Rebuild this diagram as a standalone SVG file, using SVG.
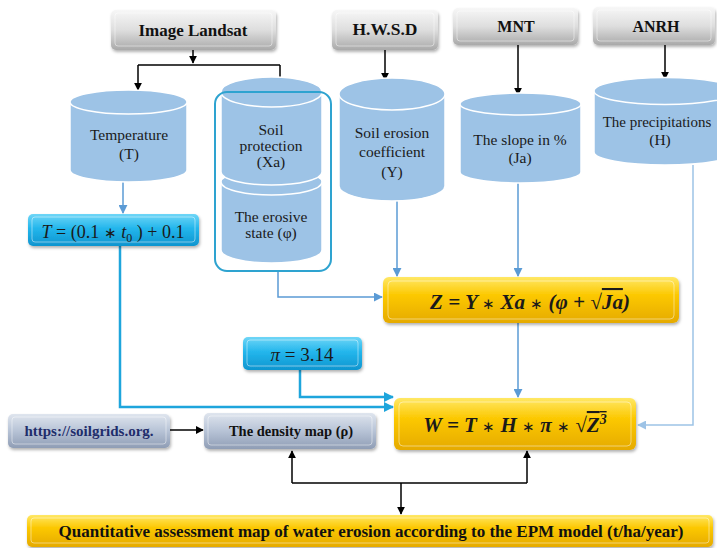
<svg xmlns="http://www.w3.org/2000/svg" width="717" height="548" viewBox="0 0 717 548">
<defs>
<linearGradient id="gGray" x1="0" y1="0" x2="0" y2="1">
<stop offset="0" stop-color="#f7f7f7"/><stop offset="0.5" stop-color="#dedede"/><stop offset="1" stop-color="#a9a9a9"/>
</linearGradient>
<linearGradient id="gCyan" x1="0" y1="0" x2="0" y2="1">
<stop offset="0" stop-color="#6fd6f7"/><stop offset="0.45" stop-color="#23b6ec"/><stop offset="1" stop-color="#0f95cf"/>
</linearGradient>
<linearGradient id="gGold" x1="0" y1="0" x2="0" y2="1">
<stop offset="0" stop-color="#ffe866"/><stop offset="0.4" stop-color="#fcc800"/><stop offset="1" stop-color="#e5aa00"/>
</linearGradient>
<linearGradient id="gSlate" x1="0" y1="0" x2="0" y2="1">
<stop offset="0" stop-color="#dfe5ee"/><stop offset="0.5" stop-color="#b7c3d6"/><stop offset="1" stop-color="#8f9db5"/>
</linearGradient>
<filter id="sh" x="-10%" y="-20%" width="120%" height="150%">
<feDropShadow dx="1" dy="2" stdDeviation="1.5" flood-color="#000" flood-opacity="0.3"/>
</filter>
<marker id="aK" viewBox="0 0 10 10" refX="9" refY="5" markerWidth="8" markerHeight="8" markerUnits="userSpaceOnUse" orient="auto">
<path d="M0,0 L10,5 L0,10 Z" fill="#000"/>
</marker>
<marker id="aB" viewBox="0 0 10 10" refX="9" refY="5" markerWidth="9" markerHeight="9" markerUnits="userSpaceOnUse" orient="auto">
<path d="M0,0 L10,5 L0,10 Z" fill="#5b9bd5"/>
</marker>
<marker id="aL" viewBox="0 0 10 10" refX="9" refY="5" markerWidth="9" markerHeight="9" markerUnits="userSpaceOnUse" orient="auto">
<path d="M0,0 L10,5 L0,10 Z" fill="#9dc3e6"/>
</marker>
<marker id="aC" viewBox="0 0 10 10" refX="9" refY="5" markerWidth="10" markerHeight="10" markerUnits="userSpaceOnUse" orient="auto">
<path d="M0,0 L10,5 L0,10 Z" fill="#1ea5dc"/>
</marker>
<style>
.src{fill:url(#gGray);filter:url(#sh)}
.cyan{fill:url(#gCyan);filter:url(#sh)}
.gold{fill:url(#gGold);filter:url(#sh)}
.slate{fill:url(#gSlate);filter:url(#sh)}
.bev{fill:none;stroke:#fff;stroke-opacity:0.45;stroke-width:1}
.cyl{fill:#9dc3e6;stroke:#fff;stroke-width:1.5}
.hd{font-family:"Liberation Serif",serif;font-weight:bold;font-size:16px;fill:#111;text-anchor:middle}
.ct{font-family:"Liberation Serif",serif;font-size:15.5px;fill:#1a1a1a;text-anchor:middle}
.mi{font-family:"Liberation Serif",serif;font-size:18px;fill:#1a1a1a;text-anchor:middle}
.mb{font-family:"Liberation Serif",serif;font-style:italic;font-weight:bold;font-size:21px;fill:#1a1a1a;text-anchor:middle}
.it{font-style:italic}
.op{font-family:"Liberation Sans",sans-serif;font-style:normal;font-weight:normal;font-size:15px}
.k{fill:none;stroke:#000;stroke-width:1.5}
.b{fill:none;stroke:#5b9bd5;stroke-width:1.5}
.l{fill:none;stroke:#9dc3e6;stroke-width:1.5}
.c{fill:none;stroke:#1ea5dc;stroke-width:2.5}
</style>
</defs>
<rect width="717" height="548" fill="#fff"/>

<g id="connectors">
<path class="k" d="M193,50 V63" marker-end="url(#aK)"/>
<path class="k" d="M138,65 H280"/>
<path class="k" d="M138,65 V90" marker-end="url(#aK)"/>
<path class="k" d="M280,65 V90" marker-end="url(#aK)"/>
<path class="k" d="M385,50 V80" marker-end="url(#aK)"/>
<path class="k" d="M518,45 V95" marker-end="url(#aK)"/>
<path class="k" d="M665,45 V79" marker-end="url(#aK)"/>
<path class="b" d="M123,182 V213" marker-end="url(#aB)"/>
<path class="b" d="M278,271 V297 H382" marker-end="url(#aB)"/>
<path class="b" d="M397,201 V276" marker-end="url(#aB)"/>
<path class="b" d="M518,183 V276" marker-end="url(#aB)"/>
<path class="b" d="M518,323 V397" marker-end="url(#aB)"/>
<path class="l" d="M693,165 V425 H638" marker-end="url(#aL)"/>
<path class="c" d="M120,246 V407 H393" marker-end="url(#aC)"/>
<path class="c" d="M300,370 V397 H393" marker-end="url(#aC)"/>
<path class="k" d="M170,430 H203" marker-end="url(#aK)"/>
<path class="k" d="M292,483 V451" marker-end="url(#aK)"/>
<path class="k" d="M292,483 H527"/>
<path class="k" d="M527,483 V451" marker-end="url(#aK)"/>
<path class="k" d="M401,483 V514" marker-end="url(#aK)"/>
</g>

<g id="landsat">
<rect class="src" x="111" y="10" width="165" height="40" rx="5"/>
<rect class="bev" x="115" y="13" width="157" height="33" rx="3"/>
<text class="hd" x="193" y="36" style="font-size:17px">Image Landsat</text>
</g>
<g id="hwsd">
<rect class="src" x="332" y="10" width="106" height="40" rx="5"/>
<rect class="bev" x="336" y="13" width="98" height="33" rx="3"/>
<text class="hd" x="385" y="35" style="font-size:17.5px">H.W.S.D</text>
</g>
<g id="mnt">
<rect class="src" x="453" y="8" width="125" height="37" rx="5"/>
<rect class="bev" x="457" y="11" width="117" height="30" rx="3"/>
<text class="hd" x="516" y="32">MNT</text>
</g>
<g id="anrh">
<rect class="src" x="593" y="7" width="122" height="38" rx="5"/>
<rect class="bev" x="597" y="10" width="114" height="31" rx="3"/>
<text class="hd" x="656" y="32">ANRH</text>
</g>

<g id="temperature">
<path class="cyl" d="M70,102 V170 A58.5,12 0 0 0 187,170 V102 Z"/>
<ellipse class="cyl" cx="128.5" cy="102" rx="58.5" ry="12"/>
<text class="ct" x="129" y="140">Temperature</text>
<text class="ct" x="129" y="159">(T)</text>
</g>

<g id="soil-group">
<path class="cyl" d="M221,182 V250 A50.5,13 0 0 0 322,250 V182 Z"/>
<ellipse class="cyl" cx="271.5" cy="182" rx="50.5" ry="13"/>
<path class="cyl" d="M221,92 V172 A50.5,13 0 0 0 322,172 V92 Z"/>
<ellipse class="cyl" cx="271.5" cy="92" rx="50.5" ry="15"/>
<text class="ct" x="271" y="135">Soil</text>
<text class="ct" x="271" y="151">protection</text>
<text class="ct" x="271" y="167">(Xa)</text>
<text class="ct" x="271" y="222">The erosive</text>
<text class="ct" x="271" y="238">state (φ)</text>
<rect x="215" y="92" width="116" height="179" rx="12" fill="none" stroke="#2ea3d0" stroke-width="2"/>
</g>

<g id="soil-erosion">
<path class="cyl" d="M339,94 V186 A53,15 0 0 0 445,186 V94 Z"/>
<ellipse class="cyl" cx="392" cy="94" rx="53" ry="16"/>
<text class="ct" x="392" y="138">Soil erosion</text>
<text class="ct" x="392" y="157">coefficient</text>
<text class="ct" x="392" y="177">(Y)</text>
</g>

<g id="slope">
<path class="cyl" d="M460,104 V172 A60.5,11 0 0 0 581,172 V104 Z"/>
<ellipse class="cyl" cx="520.5" cy="104" rx="60.5" ry="11"/>
<text class="ct" x="520" y="145">The slope in %</text>
<text class="ct" x="520" y="163">(Ja)</text>
</g>

<g id="precip">
<path class="cyl" d="M594,91 V152 A71,13 0 0 0 736,152 V91 Z"/>
<ellipse class="cyl" cx="665" cy="91" rx="71" ry="13.5"/>
<text class="ct" x="657" y="127" style="font-size:15px">The precipitations</text>
<text class="ct" x="660" y="145">(H)</text>
</g>

<g id="t-formula">
<rect class="cyan" x="28" y="214" width="171" height="32" rx="5"/>
<rect class="bev" x="32" y="217" width="163" height="25" rx="3"/>
<text class="mi" x="113" y="238"><tspan class="it">T</tspan> = (0.1 <tspan class="op">∗</tspan> <tspan class="it">t</tspan><tspan font-size="12" dy="4">0</tspan><tspan dy="-4"> ) + 0.1</tspan></text>
</g>

<g id="z-formula">
<rect class="gold" x="383" y="277" width="296" height="46" rx="6"/>
<rect class="bev" x="388" y="281" width="286" height="38" rx="4"/>
<text class="mb" x="530" y="309">Z = Y <tspan class="op">∗</tspan> Xa <tspan class="op">∗</tspan> (φ + √<tspan text-decoration="overline">Ja</tspan>)</text>
</g>

<g id="pi">
<rect class="cyan" x="243" y="337" width="119" height="33" rx="5"/>
<rect class="bev" x="247" y="340" width="111" height="26" rx="3"/>
<text class="mi" x="302" y="361" style="font-size:19px"><tspan class="it">π</tspan> = 3.14</text>
</g>

<g id="w-formula">
<rect class="gold" x="394" y="398" width="242" height="52" rx="6"/>
<rect class="bev" x="399" y="402" width="232" height="44" rx="4"/>
<text class="mb" x="515" y="432">W = T <tspan class="op">∗</tspan> H <tspan class="op">∗</tspan> π <tspan class="op">∗</tspan> √<tspan text-decoration="overline">Z<tspan font-size="14" dy="-8">3</tspan></tspan></text>
</g>

<g id="soilgrids">
<rect class="slate" x="8" y="414" width="162" height="34" rx="5"/>
<rect class="bev" x="12" y="417" width="154" height="27" rx="3"/>
<text class="hd" x="89" y="436" style="font-size:15px;fill:#1f2d6b">https://soilgrids.org.</text>
</g>

<g id="density">
<rect class="slate" x="204" y="413" width="172" height="36" rx="5"/>
<rect class="bev" x="208" y="416" width="164" height="29" rx="3"/>
<text class="hd" x="291" y="436" style="font-size:14.5px">The density map (ρ)</text>
</g>

<g id="result">
<rect class="gold" x="27" y="515" width="686" height="32" rx="5"/>
<rect class="bev" x="31" y="518" width="678" height="25" rx="3"/>
<text class="hd" x="371" y="537" style="font-size:17px">Quantitative assessment map of water erosion according to the EPM model (t/ha/year)</text>
</g>
</svg>
